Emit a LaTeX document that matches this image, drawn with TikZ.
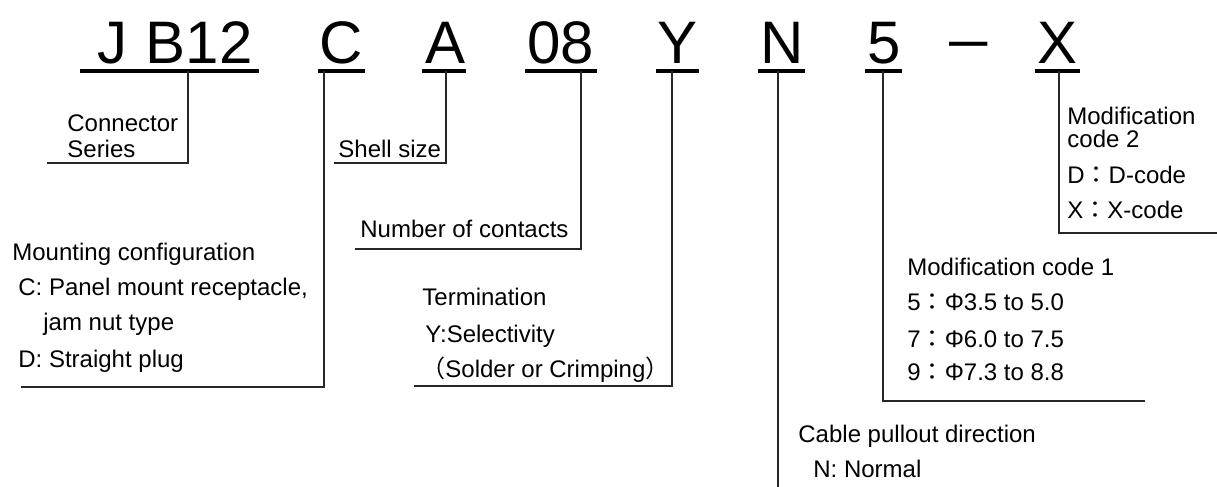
\documentclass[tikz,border=0pt]{standalone}
\usepackage{fontspec}
\setmainfont{Liberation Sans}
\newfontfamily\cjk{Noto Sans CJK JP}
\newcommand{\fwc}{{\cjk ：}}
\begin{document}
\begin{tikzpicture}[x=0.5pt,y=-0.5pt,
  big/.style={font=\fontsize{30}{36}\selectfont, inner sep=0pt, anchor=base},
  lbl/.style={font=\fontsize{12}{14}\selectfont, inner sep=0pt, anchor=base west},
  uline/.style={line width=2pt, black},
  conn/.style={line width=0.8pt, black!85}]
\useasboundingbox (0,0) rectangle (1217,487);
% code letters
\node[big] (jb) at (175,63) {J\hspace{9pt}B12};
\node[big] (c) at (341.5,63) {C};
\node[big] (a) at (446,63) {A};
\node[big] (n08) at (560.5,63) {08};
\node[big] (y) at (677.5,63) {Y};
\node[big] (n) at (782,63) {N};
\node[big] (five) at (884,63) {5};
\node[big, xscale=1.15] (dash) at (969,59) {–};
\node[big] (x) at (1057.5,63) {X};
% underlines
\draw[uline] (80,71) -- (259,71);
\draw[uline] (318,71) -- (365,71);
\draw[uline] (422,71) -- (466,71);
\draw[uline] (525,71) -- (597,71);
\draw[uline] (656,71) -- (699,71);
\draw[uline] (758,71) -- (805,71);
\draw[uline] (865,71) -- (902,71);
\draw[uline] (1035,71) -- (1080,71);
% connector anchor points
\coordinate (jbU) at (188,71);  \coordinate (jbE) at (47,163);
\coordinate (cU) at (324,71);   \coordinate (cE) at (21,387);
\coordinate (aU) at (446,71);   \coordinate (aE) at (334,163);
\coordinate (oU) at (581,71);   \coordinate (oE) at (355,249);
\coordinate (yU) at (672,71);   \coordinate (yE) at (414,386);
\coordinate (nU) at (778,71);   \coordinate (nE) at (778,487);
\coordinate (fU) at (883,71);   \coordinate (fE) at (1145,401);
\coordinate (xU) at (1059,71);  \coordinate (xE) at (1217,233);
\draw[conn] (jbU) |- (jbE);
\draw[conn] (cU) |- (cE);
\draw[conn] (aU) |- (aE);
\draw[conn] (oU) |- (oE);
\draw[conn] (yU) |- (yE);
\draw[conn] (nU) -- (nE);
\draw[conn] (fU) |- (fE);
\draw[conn] (xU) |- (xE);
% labels
\node[lbl] (cs1) at (67,131) {Connector};
\node[lbl] (cs2) at (67,157) {Series};
\node[lbl] (ss) at (338,157) {Shell size};
\node[lbl] (nc) at (360,237) {Number of contacts};
\node[lbl] (mc1) at (12,260) {Mounting configuration};
\node[lbl] (mc2) at (18,295) {C: Panel mount receptacle,};
\node[lbl] (mc3) at (43,330) {jam nut type};
\node[lbl] (mc4) at (18,367) {D: Straight plug};
\node[lbl] (t1) at (422,305) {Termination};
\node[lbl] (t2) at (425,342) {Y:Selectivity};
\node[lbl] (t3) at (421,377) {{\cjk （}Solder or Crimping{\cjk ）}};
\node[lbl] (m11) at (907,275) {Modification code 1};
\node[lbl] (m12) at (907,310) {5\fwc Φ3.5 to 5.0};
\node[lbl] (m13) at (907,347) {7\fwc Φ6.0 to 7.5};
\node[lbl] (m14) at (907,380) {9\fwc Φ7.3 to 8.8};
\node[lbl] (cp1) at (798,442) {Cable pullout direction};
\node[lbl] (cp2) at (813,477) {N: Normal};
\node[lbl] (m21) at (1067,124) {Modification};
\node[lbl] (m22) at (1067,147) {code 2};
\node[lbl] (m23) at (1067,183) {D\fwc D-code};
\node[lbl] (m24) at (1067,218) {X\fwc X-code};
\end{tikzpicture}
\end{document}
